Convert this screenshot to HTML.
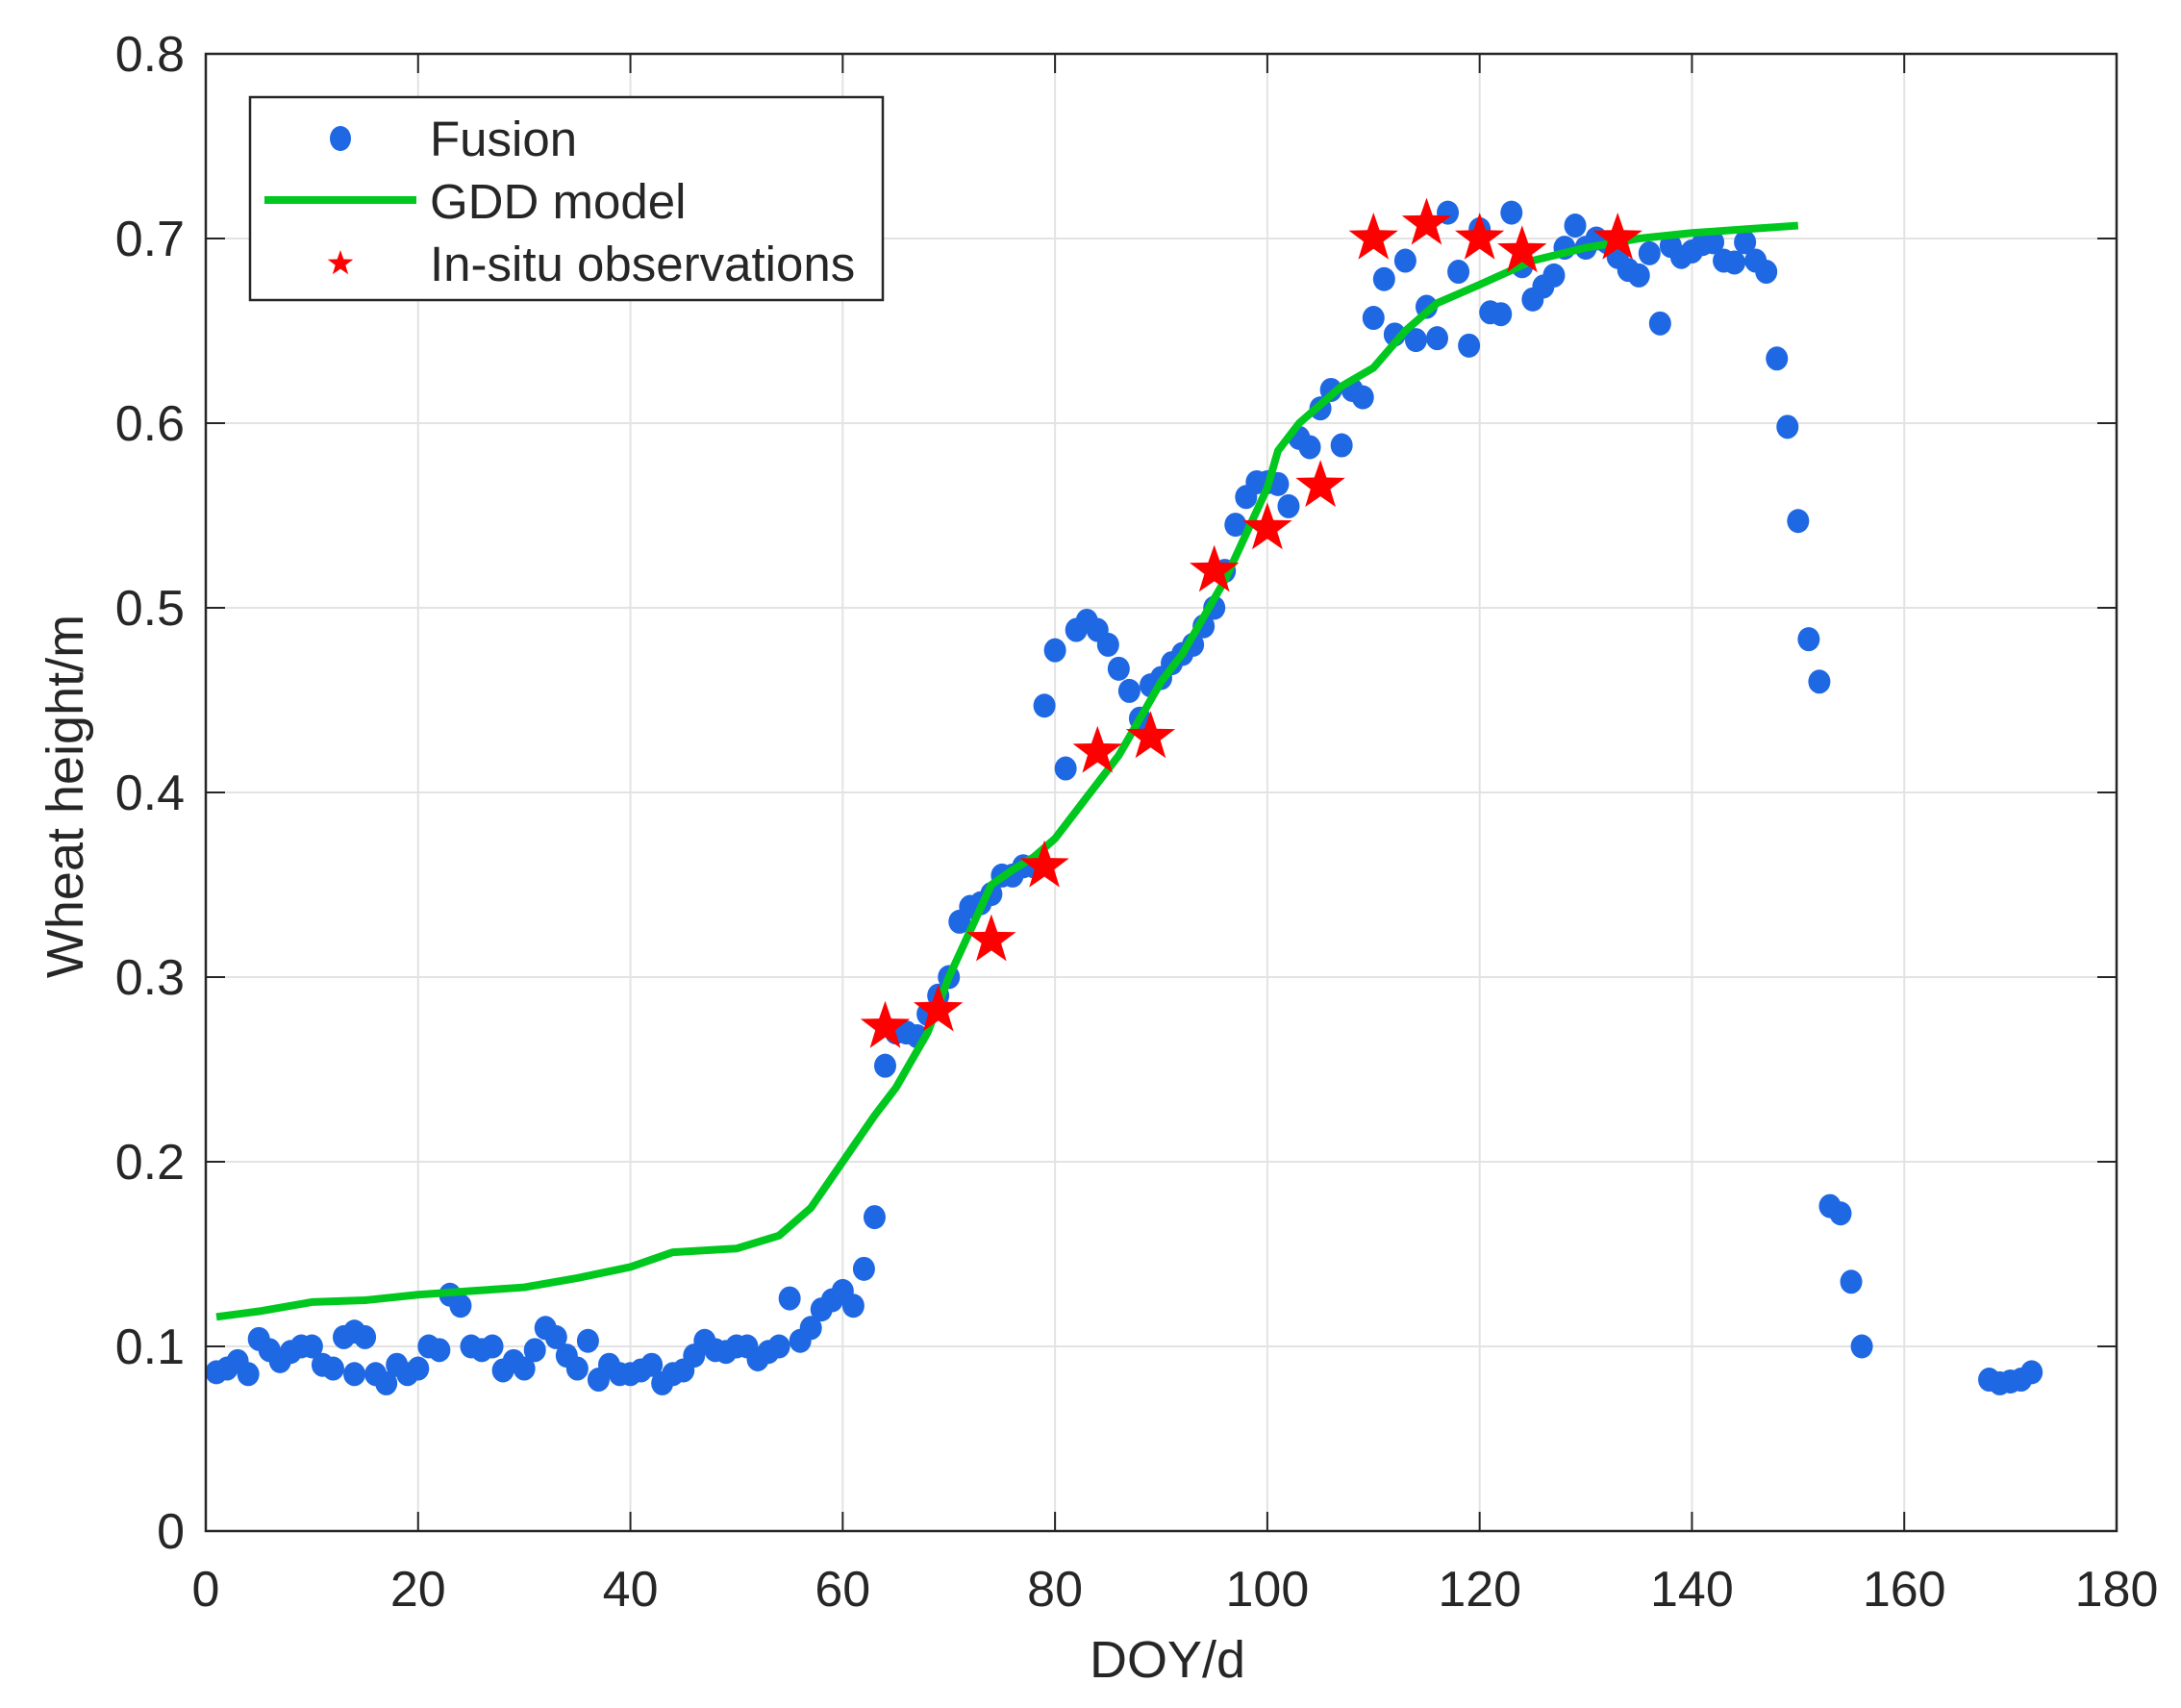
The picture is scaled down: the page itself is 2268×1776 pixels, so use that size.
<!DOCTYPE html>
<html><head><meta charset="utf-8"><style>
html,body{margin:0;padding:0;background:#fff}
svg{display:block}
text{font-family:"Liberation Sans",Arial,sans-serif;fill:#262626}
</style></head><body>
<svg id="s" width="2268" height="1776" viewBox="0 0 2268 1776" xmlns="http://www.w3.org/2000/svg">
<rect width="2268" height="1776" fill="#fff"/>
<g id="grid" stroke="#e3e3e3" stroke-width="2"></g>
<g id="ticks" stroke="#262626" stroke-width="2"></g>
<g id="data"></g>
<rect x="214" y="56" width="1987" height="1536" fill="none" stroke="#262626" stroke-width="2.5"/>
<g font-size="52" text-anchor="end">
<text x="192" y="1610">0</text><text x="192" y="1418">0.1</text><text x="192" y="1226">0.2</text>
<text x="192" y="1034">0.3</text><text x="192" y="842">0.4</text><text x="192" y="650">0.5</text>
<text x="192" y="458">0.6</text><text x="192" y="266">0.7</text><text x="192" y="74">0.8</text>
</g>
<g font-size="52" text-anchor="middle">
<text x="214" y="1670">0</text><text x="434.8" y="1670">20</text><text x="655.6" y="1670">40</text>
<text x="876.3" y="1670">60</text><text x="1097.1" y="1670">80</text><text x="1317.9" y="1670">100</text>
<text x="1538.7" y="1670">120</text><text x="1759.4" y="1670">140</text><text x="1980.2" y="1670">160</text>
<text x="2201" y="1670">180</text>
</g>
<text x="1214" y="1744" font-size="54" text-anchor="middle">DOY/d</text>
<text transform="translate(86,828) rotate(-90)" font-size="54" text-anchor="middle">Wheat height/m</text>
<g>
<rect x="260" y="101" width="658" height="211" fill="#fff" stroke="#262626" stroke-width="2.5"/>
<ellipse cx="354" cy="144" rx="11" ry="13" fill="#1f68e3"/>
<line x1="275" y1="208" x2="433" y2="208" stroke="#00c81e" stroke-width="8"/>
<polygon id="legstar" fill="#ff0000"/>
<text x="447" y="162" font-size="51">Fusion</text>
<text x="447" y="227" font-size="51">GDD model</text>
<text x="447" y="292" font-size="51">In-situ observations</text>
</g>
</svg>
<script>
var X=function(d){return 214+d*1987/180},Y=function(v){return 1592-v*1920};
var NS="http://www.w3.org/2000/svg";
function el(p,n,a){var e=document.createElementNS(NS,n);for(var k in a)e.setAttribute(k,a[k]);p.appendChild(e);return e;}
var g=document.getElementById('grid'),t=document.getElementById('ticks'),d=document.getElementById('data');
for(var i=1;i<9;i++){var x=X(i*20);el(g,'line',{x1:x,y1:56,x2:x,y2:1592});el(t,'line',{x1:x,y1:1592,x2:x,y2:1572});el(t,'line',{x1:x,y1:56,x2:x,y2:76});}
for(var j=1;j<8;j++){var y=Y(j*0.1);el(g,'line',{x1:214,y1:y,x2:2201,y2:y});el(t,'line',{x1:214,y1:y,x2:234,y2:y});el(t,'line',{x1:2201,y1:y,x2:2181,y2:y});}
var F=[[1,.086],[2,.088],[3,.092],[4,.085],[5,.104],[6,.098],[7,.092],[8,.097],[9,.1],[10,.1],[11,.09],[12,.088],[13,.105],[14,.108],[14,.085],[15,.105],[16,.085],[17,.08],[18,.09],[19,.085],[20,.088],[21,.1],[22,.098],[23,.128],[24,.122],[25,.1],[26,.098],[27,.1],[28,.087],[29,.092],[30,.088],[31,.098],[32,.11],[33,.105],[34,.095],[35,.088],[36,.103],[37,.082],[38,.09],[39,.085],[40,.085],[41,.087],[42,.09],[43,.08],[44,.085],[45,.087],[46,.095],[47,.103],[48,.098],[49,.097],[50,.1],[51,.1],[52,.093],[53,.097],[54,.1],[55,.126],[56,.103],[57,.11],[58,.12],[59,.125],[60,.13],[61,.122],[62,.142],[63,.17],[64,.252],[65,.27],[66,.27],[67,.268],[68,.28],[69,.29],[70,.3],[71,.33],[72,.338],[73,.34],[74,.345],[75,.355],[76,.355],[77,.36],[78,.36],[79,.447],[80,.477],[81,.413],[82,.488],[83,.493],[84,.488],[85,.48],[86,.467],[87,.455],[88,.44],[89,.458],[90,.462],[91,.47],[92,.475],[93,.48],[94,.49],[95,.5],[96,.52],[97,.545],[98,.56],[99,.568],[100,.568],[101,.567],[102,.555],[103,.592],[104,.587],[105,.608],[106,.618],[107,.588],[108,.618],[109,.614],[110,.657],[111,.678],[112,.648],[113,.688],[114,.645],[115,.663],[116,.646],[117,.714],[118,.682],[119,.642],[120,.705],[121,.66],[122,.659],[123,.714],[124,.685],[125,.667],[126,.674],[127,.68],[128,.695],[129,.707],[130,.695],[131,.7],[132,.698],[133,.69],[134,.683],[135,.68],[136,.692],[137,.654],[138,.696],[139,.69],[140,.693],[141,.697],[142,.698],[143,.688],[144,.687],[145,.698],[146,.688],[147,.682],[148,.635],[149,.598],[150,.547],[151,.483],[152,.46],[153,.176],[154,.172],[155,.135],[156,.1],[168,.082],[169,.08],[170,.081],[171,.082],[172,.086]];
F.forEach(function(p){el(d,'ellipse',{cx:X(p[0]),cy:Y(p[1]),rx:11.5,ry:12.5,fill:'#1f68e3'});});
var G=[[1,.116],[5,.119],[10,.124],[15,.125],[20,.128],[25,.13],[30,.132],[35,.137],[40,.143],[44,.151],[50,.153],[54,.16],[57,.175],[60,.2],[63,.225],[65,.24],[68,.27],[70,.3],[72,.325],[74,.35],[76,.358],[78,.365],[80,.375],[82,.39],[84,.405],[86,.42],[88,.44],[90,.46],[92,.475],[94,.495],[96,.515],[98,.54],[100,.565],[101,.585],[103,.6],[105,.61],[107,.62],[110,.63],[113,.65],[116,.665],[120,.675],[125,.688],[130,.695],[135,.7],[140,.703],[145,.705],[150,.707]];
el(d,'polyline',{points:G.map(function(p){return X(p[0])+','+Y(p[1]);}).join(' '),fill:'none',stroke:'#00c81e','stroke-width':8,'stroke-linejoin':'round'});
function star(cx,cy,R){var r=R*0.4,s=[];for(var k=0;k<10;k++){var a=-Math.PI/2+k*Math.PI/5,rr=k%2?r:R;s.push((cx+rr*Math.cos(a)).toFixed(1)+','+(cy+rr*Math.sin(a)).toFixed(1));}return s.join(' ');}
var S=[[64,.273],[69,.282],[74,.32],[79,.36],[84,.422],[89,.43],[95,.52],[100,.543],[105,.566],[110,.7],[115,.708],[120,.7],[124,.693],[133,.7]];
S.forEach(function(p){el(d,'polygon',{points:star(X(p[0]),Y(p[1]),27),fill:'#ff0000'});});
document.getElementById('legstar').setAttribute('points',star(354,274,14));
</script>
</body></html>
